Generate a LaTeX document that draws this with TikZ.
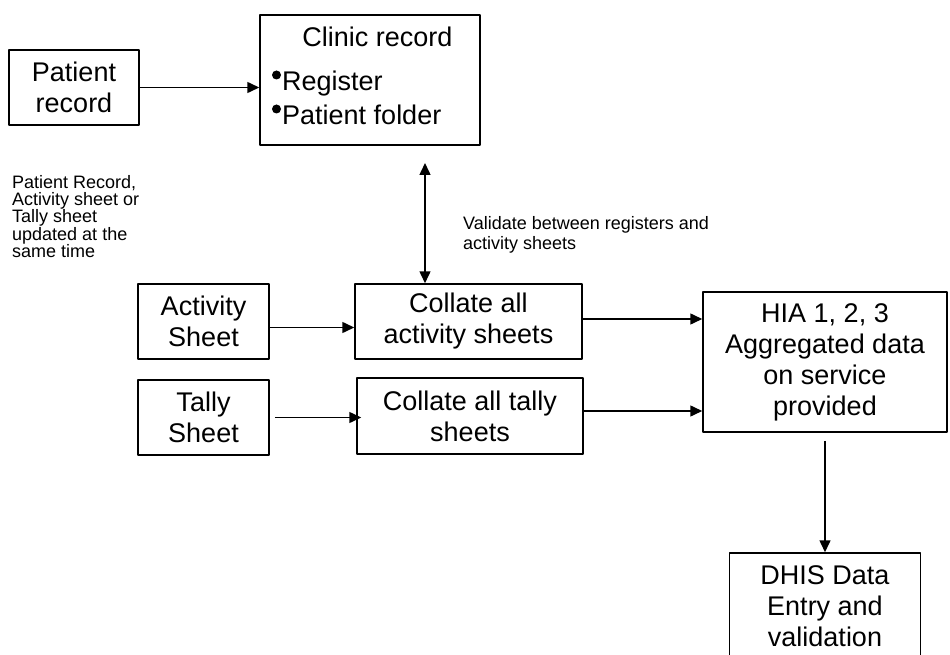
\documentclass[tikz,border=0pt]{standalone}
\usepackage{fontspec}
\setmainfont{Liberation Sans}
\usetikzlibrary{arrows.meta}
\begin{document}
\begin{tikzpicture}[x=1pt, y=-1pt, line join=round, >={Triangle[length=12pt,width=11pt]},
	box/.style={draw, line width=1.5pt, inner sep=0pt, align=center, font=\fontsize{27}{31}\selectfont},
	big/.style={inner sep=0pt, font=\fontsize{27}{31}\selectfont},
	note/.style={inner sep=0pt, align=left, anchor=north west, font=\fontsize{18}{17.3}\selectfont},
	link/.style={->, line width=1.5pt}]
			\useasboundingbox (0,0) rectangle (950,655);
			\clip (0,0) rectangle (950,655);
			% boxes
			\node[box, minimum width=130pt, minimum height=75pt] (pat) at (74,87.5) {Patient\\record};
			\node[box, minimum width=220pt, minimum height=130pt] (clinic) at (370,80) {};
			\node[big, anchor=base] (cliniccap) at (377.5,47) {Clinic record};
			\node[big, anchor=base west] (reg) at (282,91) {Register};
			\node[big, anchor=base west] (fold) at (282,125) {Patient folder};
			\fill (276.5,75) circle (4.5pt);
			\fill (276.5,109) circle (4.5pt);
			\node[box, minimum width=131pt, minimum height=75pt] (act) at (203.5,321.5) {Activity\\Sheet};
			\node[box, minimum width=227pt, minimum height=75pt] (colla) at (468.5,321.5) {Collate all\\activity sheets};
			\node[box, minimum width=131pt, minimum height=75pt] (tally) at (203.5,417.5) {Tally\\Sheet};
			\node[box, minimum width=226pt, minimum height=76pt] (collt) at (470,416) {Collate all tally\\sheets};
			\node[box, minimum width=244pt, minimum height=140pt] (hia) at (825,362) {HIA 1, 2, 3\\Aggregated data\\on service\\provided};
			\node[box, minimum width=191pt, minimum height=106pt] (dhis) at (825,606) {DHIS Data\\Entry and\\validation};
			% notes
			\node[note] (upd) at (12,175) {Patient Record,\\Activity sheet or\\Tally sheet\\updated at the\\same time};
			\node[note, font=\fontsize{18}{20}\selectfont] (val) at (463,216) {Validate between registers and\\activity sheets};
			% connectors
			\coordinate (vtop) at (425,163);
			\draw[link] (pat) -- (pat -| clinic.west);
			\draw[<->, line width=1.5pt] (vtop) -- (vtop |- colla.north);
			\draw[link] ([yshift=-6pt]act.east) -- ([yshift=-6pt]act.east -| colla.west);
			\draw[link] ([xshift=5pt]tally.east) -- ([xshift=5pt]tally.east -| collt.west);
			\draw[link] ([yshift=2.5pt]colla.east) -- ([yshift=2.5pt]colla.east -| hia.west);
			\draw[link] ([yshift=5pt]collt.east) -- ([yshift=5pt]collt.east -| hia.west);
			\draw[link] ([yshift=-8pt]hia.south) -- (dhis.north);
		\end{tikzpicture}
\end{document}
